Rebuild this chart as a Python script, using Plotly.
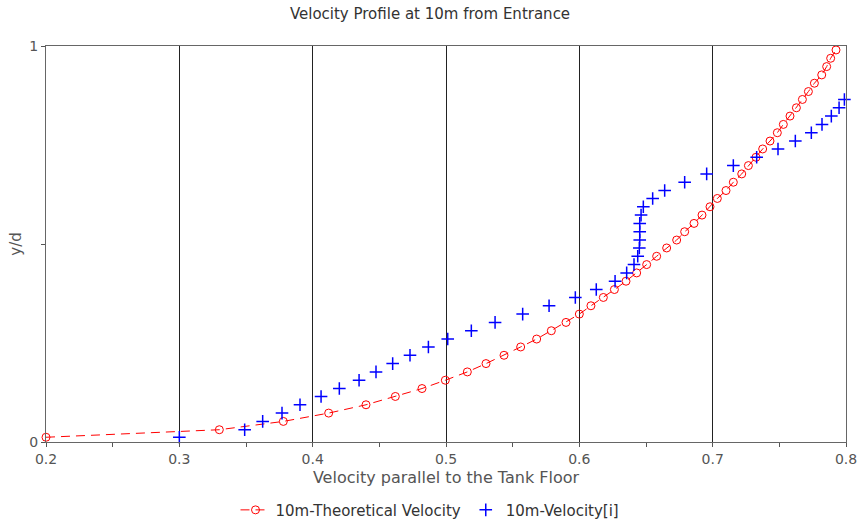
import plotly.graph_objects as go

# Depth ratio y/d at each sampled level
y_over_d = [0.012, 0.031, 0.052, 0.073, 0.094, 0.115, 0.135, 0.156, 0.177, 0.198,
            0.219, 0.240, 0.260, 0.281, 0.302, 0.323, 0.344, 0.365, 0.385, 0.406,
            0.427, 0.448, 0.469, 0.490, 0.510, 0.531, 0.552, 0.573, 0.594, 0.615,
            0.635, 0.656, 0.677, 0.698, 0.719, 0.740, 0.760, 0.781, 0.802, 0.823,
            0.844, 0.865, 0.885, 0.906, 0.927, 0.948, 0.969, 0.990]

# Theoretical velocity profile
theoretical_velocity = [0.200, 0.330, 0.378, 0.412, 0.440, 0.462, 0.482, 0.4995, 0.516, 0.530,
                        0.5435, 0.556, 0.568, 0.579, 0.590, 0.600, 0.6087, 0.618, 0.6263, 0.635,
                        0.643, 0.6505, 0.658, 0.6655, 0.673, 0.679, 0.686, 0.692, 0.698, 0.7035,
                        0.710, 0.7155, 0.7218, 0.7268, 0.7325, 0.7375, 0.743, 0.7485, 0.753, 0.758,
                        0.7628, 0.7673, 0.7718, 0.7763, 0.7818, 0.7855, 0.7885, 0.7925]

# Computed velocity profile (levels within the plotted range)
computed_velocity = [0.300, 0.349, 0.3625, 0.377, 0.3905, 0.4063, 0.420, 0.4348, 0.4475, 0.460,
                     0.473, 0.4868, 0.5013, 0.519, 0.5368, 0.5575, 0.5773, 0.597, 0.6127, 0.6268,
                     0.6355, 0.641, 0.6438, 0.645, 0.6453, 0.6453, 0.6453, 0.6463, 0.648, 0.655,
                     0.664, 0.679, 0.6955, 0.7155, 0.733, 0.749, 0.762, 0.774, 0.782, 0.789,
                     0.7948, 0.7988]

FONT = "DejaVu Sans"

fig = go.Figure()

fig.add_trace(go.Scatter(
    x=theoretical_velocity,
    y=y_over_d,
    mode="lines+markers",
    name="10m-Theoretical Velocity",
    line=dict(color="#ff0000", width=1, dash="9px,6px"),
    marker=dict(symbol="circle-open", size=8, color="#ff0000", line=dict(width=1)),
    cliponaxis=False,
))

fig.add_trace(go.Scatter(
    x=computed_velocity,
    y=y_over_d[:len(computed_velocity)],
    mode="markers",
    name="10m-Velocity[i]",
    marker=dict(symbol="cross-thin-open", size=9, color="#0000ff",
                line=dict(width=1.5, color="#0000ff")),
    cliponaxis=False,
))

fig.update_layout(
    width=860,
    height=526,
    margin=dict(l=46, r=14, t=46, b=84, autoexpand=False),
    paper_bgcolor="white",
    plot_bgcolor="white",
    font=dict(family=FONT, size=14, color="#444444"),
    title=dict(text="Velocity Profile at 10m from Entrance", x=0.5, xanchor="center",
               y=1 - 14 / 526, yanchor="middle",
               font=dict(family=FONT, size=15, color="#333333")),
    showlegend=True,
    legend=dict(orientation="h", x=0.48, xanchor="center", y=-0.172, yanchor="middle",
                font=dict(family=FONT, size=15, color="#333333"),
                itemwidth=30, tracegroupgap=0, bgcolor="rgba(0,0,0,0)"),
)

fig.update_xaxes(
    range=[0.2, 0.8],
    automargin=False,
    tickvals=[0.2, 0.3, 0.4, 0.5, 0.6, 0.7, 0.8],
    ticktext=["0.2", "0.3", "0.4", "0.5", "0.6", "0.7", "0.8"],
    ticks="outside", ticklen=4, tickcolor="#555555",
    minor=dict(tickvals=[0.25, 0.35, 0.45, 0.55, 0.65, 0.75], ticks="outside",
               ticklen=4, tickcolor="#555555", showgrid=False),
    showgrid=True, gridcolor="#222222", gridwidth=1,
    showline=True, linecolor="#666666", linewidth=1, mirror=True,
    zeroline=False,
    tickfont=dict(family=FONT, size=14, color="#555555"),
    title=dict(text="Velocity parallel to the Tank Floor", standoff=6,
               font=dict(family=FONT, size=16, color="#555555")),
)

fig.update_yaxes(
    range=[0, 1],
    automargin=False,
    tickvals=[0, 0.5, 1],
    ticktext=["0", "", "1"],
    ticks="outside", ticklen=4, tickcolor="#555555",
    showgrid=False,
    showline=True, linecolor="#666666", linewidth=1, mirror=True,
    zeroline=False,
    tickfont=dict(family=FONT, size=14, color="#555555"),
    title=dict(text="y/d", standoff=4,
               font=dict(family=FONT, size=15, color="#555555")),
)

fig.write_html("out.html")
